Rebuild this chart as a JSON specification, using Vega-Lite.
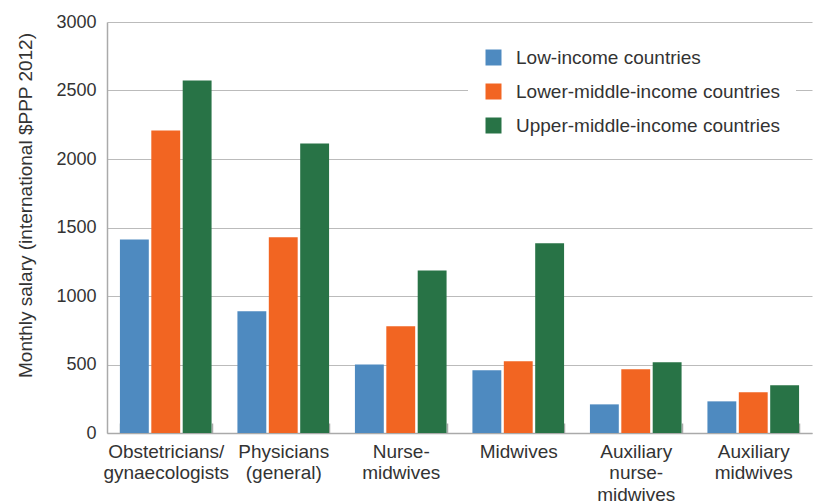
{
  "$schema": "https://vega.github.io/schema/vega-lite/v6.json",
  "autosize": "none",
  "width": 705,
  "height": 411,
  "padding": {"left": 107, "top": 22, "right": 7, "bottom": 68},
  "background": "white",
  "config": {
    "font": "Liberation Sans",
    "view": {"stroke": null}
  },
  "data": {
    "values": [
      {"category": "Obstetricians/ gynaecologists", "group": "Low-income countries", "salary": 1412},
      {"category": "Obstetricians/ gynaecologists", "group": "Lower-middle-income countries", "salary": 2208},
      {"category": "Obstetricians/ gynaecologists", "group": "Upper-middle-income countries", "salary": 2573},
      {"category": "Physicians (general)", "group": "Low-income countries", "salary": 888},
      {"category": "Physicians (general)", "group": "Lower-middle-income countries", "salary": 1428},
      {"category": "Physicians (general)", "group": "Upper-middle-income countries", "salary": 2113},
      {"category": "Nurse-midwives", "group": "Low-income countries", "salary": 500},
      {"category": "Nurse-midwives", "group": "Lower-middle-income countries", "salary": 779},
      {"category": "Nurse-midwives", "group": "Upper-middle-income countries", "salary": 1186},
      {"category": "Midwives", "group": "Low-income countries", "salary": 458},
      {"category": "Midwives", "group": "Lower-middle-income countries", "salary": 523},
      {"category": "Midwives", "group": "Upper-middle-income countries", "salary": 1385},
      {"category": "Auxiliary nurse-midwives", "group": "Low-income countries", "salary": 209},
      {"category": "Auxiliary nurse-midwives", "group": "Lower-middle-income countries", "salary": 465},
      {"category": "Auxiliary nurse-midwives", "group": "Upper-middle-income countries", "salary": 516},
      {"category": "Auxiliary midwives", "group": "Low-income countries", "salary": 231},
      {"category": "Auxiliary midwives", "group": "Lower-middle-income countries", "salary": 297},
      {"category": "Auxiliary midwives", "group": "Upper-middle-income countries", "salary": 348}
    ]
  },
  "mark": {"type": "bar"},
  "encoding": {
    "x": {
      "field": "category",
      "type": "nominal",
      "sort": null,
      "scale": {"paddingInner": 0.22, "paddingOuter": 0.11},
      "axis": {
        "title": null,
        "labelAngle": 0,
        "labelFontSize": 19,
        "labelColor": "#333333",
        "labelLineHeight": 21.5,
        "labelPadding": 19,
        "labelBaseline": "top",
        "labelExpr": "datum.label == 'Obstetricians/ gynaecologists' ? ['Obstetricians/', 'gynaecologists'] : datum.label == 'Physicians (general)' ? ['Physicians', '(general)'] : datum.label == 'Nurse-midwives' ? ['Nurse-', 'midwives'] : datum.label == 'Auxiliary nurse-midwives' ? ['Auxiliary', 'nurse-', 'midwives'] : datum.label == 'Auxiliary midwives' ? ['Auxiliary', 'midwives'] : datum.label",
        "domainColor": "#aaaaaa",
        "domainWidth": 1.5,
        "ticks": true,
        "tickBand": "extent",
        "tickSize": -10,
        "tickColor": "#aaaaaa",
        "tickWidth": 1.5,
        "grid": false
      }
    },
    "xOffset": {
      "field": "group",
      "type": "nominal",
      "sort": null,
      "scale": {"paddingInner": 0.08, "paddingOuter": 0}
    },
    "y": {
      "field": "salary",
      "type": "quantitative",
      "scale": {"domain": [0, 3000], "nice": false},
      "axis": {
        "title": "Monthly salary (international $PPP 2012)",
        "titleFontSize": 19,
        "titleFontWeight": "normal",
        "titleColor": "#333333",
        "titleX": -82,
        "titleY": 183,
        "titleAngle": -90,
        "titleAlign": "center",
        "titleBaseline": "middle",
        "values": [0, 500, 1000, 1500, 2000, 2500, 3000],
        "format": "d",
        "labelFontSize": 18,
        "labelColor": "#333333",
        "labelPadding": 11,
        "ticks": false,
        "domainColor": "#aaaaaa",
        "domainWidth": 1.5,
        "grid": true,
        "gridColor": "#bbbbbb",
        "gridWidth": 1.2
      }
    },
    "color": {
      "field": "group",
      "type": "nominal",
      "sort": null,
      "scale": {
        "domain": ["Low-income countries", "Lower-middle-income countries", "Upper-middle-income countries"],
        "range": ["#4E8AC0", "#F26522", "#287346"]
      },
      "legend": {
        "title": null,
        "orient": "none",
        "legendX": 361,
        "legendY": 10,
        "fillColor": "white",
        "padding": 16,
        "symbolType": "square",
        "symbolSize": 256,
        "symbolStrokeWidth": 0,
        "labelFontSize": 19,
        "labelColor": "#333333",
        "labelOffset": 13,
        "rowPadding": 14,
        "labelLimit": 400
      }
    }
  }
}
